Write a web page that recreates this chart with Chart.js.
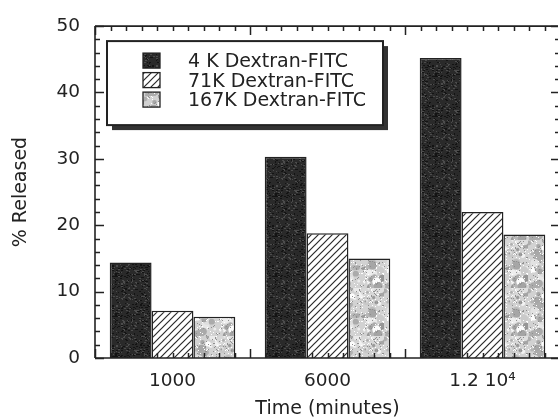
<!DOCTYPE html>
<html>
<head>
<meta charset="utf-8">
<script src="https://cdn.jsdelivr.net/npm/chart.js@4"></script>
<style>
  html, body { margin: 0; padding: 0; background: #fff; overflow: hidden; }
  #wrap { width: 560px; height: 420px; }
</style>
</head>
<body>
<div id="wrap"><canvas id="chart1" width="560" height="420"></canvas></div>
<script>
// data
const categories = ['1000', '6000', '1.2 10\u2074'];
const seriesNames = ['4 K Dextran-FITC', '71K Dextran-FITC', '167K Dextran-FITC'];
const release4k = [14.4, 30.3, 45.2];
const release71k = [7.1, 18.8, 22.0];
const release167k = [6.2, 15.0, 18.6];
const yTicks = [0, 10, 20, 30, 40, 50];

const FONT = 'DejaVu Sans';
const INK = '#222';

// simple deterministic noise for the print-like textures
let seed = 7;
function rnd() { seed = (seed * 16807) % 2147483647; return seed / 2147483647; }

function makePattern(kind) {
  const c = document.createElement('canvas');
  const ctx = c.getContext('2d');
  if (kind === 'dark') {
    c.width = 40; c.height = 40;
    ctx.fillStyle = '#2a2a2a';
    ctx.fillRect(0, 0, 40, 40);
    for (let i = 0; i < 300; i++) {
      ctx.fillStyle = rnd() < 0.5 ? '#4c4c4c' : '#131313';
      ctx.fillRect(Math.floor(rnd() * 40), Math.floor(rnd() * 40), 1 + Math.floor(rnd() * 2), 1);
    }
  } else if (kind === 'hatch') {
    c.width = 7; c.height = 7;
    ctx.fillStyle = '#fff';
    ctx.fillRect(0, 0, 7, 7);
    ctx.strokeStyle = '#2a2a2a';
    ctx.lineWidth = 1.2;
    ctx.beginPath();
    ctx.moveTo(-1, 8); ctx.lineTo(8, -1);
    ctx.moveTo(-1, 1); ctx.lineTo(1, -1);
    ctx.moveTo(6, 8); ctx.lineTo(8, 6);
    ctx.stroke();
  } else {
    c.width = 48; c.height = 48;
    ctx.fillStyle = '#d2d2d2';
    ctx.fillRect(0, 0, 48, 48);
    for (let i = 0; i < 80; i++) {
      const g = 150 + Math.floor(rnd() * 105);
      ctx.fillStyle = 'rgb(' + g + ',' + g + ',' + g + ')';
      ctx.beginPath();
      ctx.arc(rnd() * 48, rnd() * 48, 1 + rnd() * 3.5, 0, Math.PI * 2);
      ctx.fill();
    }
    for (let i = 0; i < 260; i++) {
      ctx.fillStyle = rnd() < 0.5 ? '#fff' : '#8f8f8f';
      ctx.fillRect(Math.floor(rnd() * 48), Math.floor(rnd() * 48), 1, 1);
    }
  }
  return ctx.createPattern(c, 'repeat');
}

const fills = [makePattern('dark'), makePattern('hatch'), makePattern('stipple')];

// inward ticks on all four sides plus the frame
const frameTicks = {
  id: 'frameTicks',
  afterDatasetsDraw(chart) {
    const {ctx, chartArea: a, scales: {x, y}} = chart;
    ctx.save();
    ctx.strokeStyle = INK;
    ctx.lineWidth = 1.6;
    ctx.beginPath();
    ctx.moveTo(a.left, a.top); ctx.lineTo(a.right, a.top);
    ctx.moveTo(a.left, a.top); ctx.lineTo(a.left, a.bottom);
    ctx.moveTo(a.left, a.bottom); ctx.lineTo(a.right, a.bottom);
    ctx.moveTo(a.right, a.top); ctx.lineTo(a.right, a.bottom);
    ctx.stroke();

    ctx.lineWidth = 1.5;
    ctx.beginPath();
    for (let v = y.min; v <= y.max; v += 2) {
      const py = Math.round(y.getPixelForValue(v)) + 0.5;
      const len = v % 10 === 0 ? 9 : 5;
      ctx.moveTo(a.left, py); ctx.lineTo(a.left + len, py);
      ctx.moveTo(a.right, py); ctx.lineTo(a.right - len, py);
    }
    const w = x.getPixelForValue(1) - x.getPixelForValue(0);
    for (let i = 0; i < categories.length; i++) {
      const start = x.getPixelForValue(i) - w / 2;
      for (let k = 0; k <= 10; k++) {
        const px = Math.round(start + k * w / 10) + 0.5;
        const len = k === 0 || k === 10 ? 9 : 5;
        ctx.moveTo(px, a.top); ctx.lineTo(px, a.top + len);
        ctx.moveTo(px, a.bottom); ctx.lineTo(px, a.bottom - len);
      }
    }
    ctx.stroke();
    ctx.restore();
  }
};

// boxed legend with drop shadow inside the plot
const boxLegend = {
  id: 'boxLegend',
  afterDraw(chart) {
    const {ctx, chartArea: a} = chart;
    const bx = a.left + 12, by = a.top + 15, bw = 276, bh = 84;
    ctx.save();
    ctx.fillStyle = '#333';
    ctx.fillRect(bx + 5, by + 5, bw, bh);
    ctx.fillStyle = '#fff';
    ctx.fillRect(bx, by, bw, bh);
    ctx.strokeStyle = INK;
    ctx.lineWidth = 2;
    ctx.strokeRect(bx, by, bw, bh);
    ctx.font = '19px "' + FONT + '"';
    ctx.textBaseline = 'middle';
    chart.data.datasets.forEach((ds, i) => {
      const cy = by + 20 + i * 19.5;
      ctx.fillStyle = ds.backgroundColor;
      ctx.fillRect(bx + 36, cy - 8, 17, 15);
      ctx.lineWidth = 1.3;
      ctx.strokeRect(bx + 36, cy - 8, 17, 15);
      ctx.fillStyle = INK;
      ctx.fillText(ds.label, bx + 81, cy + 1);
    });
    ctx.restore();
  }
};

const chart1 = new Chart(document.getElementById('chart1'), {
  type: 'bar',
  data: {
    labels: categories,
    datasets: [
      {label: seriesNames[0], data: release4k, backgroundColor: fills[0]},
      {label: seriesNames[1], data: release71k, backgroundColor: fills[1]},
      {label: seriesNames[2], data: release167k, backgroundColor: fills[2]}
    ]
  },
  options: {
    responsive: false,
    animation: false,
    devicePixelRatio: 1,
    layout: {padding: {top: 25, right: 0, bottom: 0, left: 0}},
    datasets: {
      bar: {
        borderColor: INK,
        borderWidth: 1.5,
        borderSkipped: 'bottom',
        categoryPercentage: 0.81,
        barPercentage: 1.0
      }
    },
    plugins: {
      legend: {display: false},
      tooltip: {enabled: false}
    },
    scales: {
      x: {
        grid: {display: false, drawTicks: false},
        border: {display: false},
        ticks: {color: INK, font: {family: FONT, size: 18.5}, padding: 12},
        title: {display: true, text: 'Time (minutes)', color: INK, font: {family: FONT, size: 19}, padding: {top: 0, bottom: 0}},
        afterFit(scale) { scale.height = 62; }
      },
      y: {
        min: 0,
        max: 50,
        grid: {display: false, drawTicks: false},
        border: {display: false},
        afterBuildTicks(scale) { scale.ticks = yTicks.map(v => ({value: v})); },
        ticks: {color: INK, font: {family: FONT, size: 18.5}, padding: 15},
        title: {display: true, text: '% Released', color: INK, font: {family: FONT, size: 19}, padding: {top: 10, bottom: 0}},
        afterFit(scale) { scale.width = 95; }
      }
    }
  },
  plugins: [frameTicks, boxLegend]
});
</script>
</body>
</html>
